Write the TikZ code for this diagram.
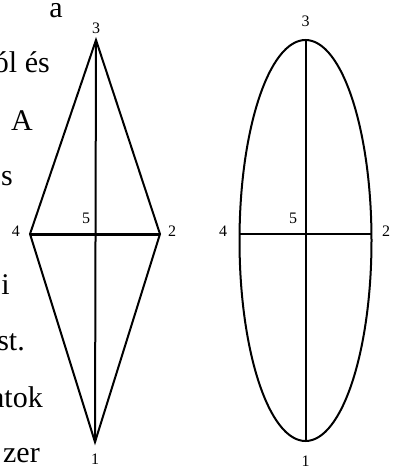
\documentclass[tikz,border=0pt]{standalone}
\usepackage{fontspec}
\setmainfont{Liberation Serif}
\begin{document}
\begin{tikzpicture}[x=1pt,y=-1pt,
  edge/.style={line width=2pt, line join=miter},
  thickedge/.style={line width=3pt},
  lbl/.style={font=\fontsize{16}{16}\selectfont, inner sep=0pt},
  frag/.style={font=\fontsize{30}{30}\selectfont, inner sep=0pt, anchor=base east}]
\useasboundingbox (0,0) rectangle (393,468);
% text fragments at the left
\node[frag] (t1) at (63,18) {a};
\node[frag] (t2) at (50,73) {ól és};
\node[frag] (t3) at (33,131) {A};
\node[frag] (t4) at (13,185) {s};
\node[frag] (t5) at (10,294) {i};
\node[frag] (t6) at (25,350) {st.};
\node[frag] (t7) at (43,407) {atok};
\node[frag] (t8) at (40,462) {zer};
% left diamond
\coordinate (L3) at (96,40);
\coordinate (L2) at (160,234);
\coordinate (L1) at (95,442);
\coordinate (L4) at (30,234);
\draw[edge] (L3) -- (L2) -- (L1) -- (L4) -- cycle;
\draw[edge] (L3) -- (L1);
\draw[thickedge] (L4) -- (L2);
\node[lbl] (l3) at (96,28) {3};
\node[lbl] (l2) at (172,231) {2};
\node[lbl] (l1) at (95,459) {1};
\node[lbl] (l4) at (16,231) {4};
\node[lbl] (l5) at (86,218) {5};
% right ellipse
\coordinate (C) at (305.5,240.5);
\coordinate (R3) at (305.5,40);
\coordinate (R1) at (305.5,441);
\coordinate (R4) at (239.5,234);
\coordinate (R2) at (371.5,234);
\draw[edge] (C) ellipse [x radius=66, y radius=200.5];
\draw[edge] (R3) -- (R1);
\draw[edge] (R4) -- (R2);
\node[lbl] (r3) at (305.5,21.5) {3};
\node[lbl] (r2) at (386,231) {2};
\node[lbl] (r1) at (305.5,461) {1};
\node[lbl] (r4) at (223,231) {4};
\node[lbl] (r5) at (293,218) {5};
\end{tikzpicture}
\end{document}
